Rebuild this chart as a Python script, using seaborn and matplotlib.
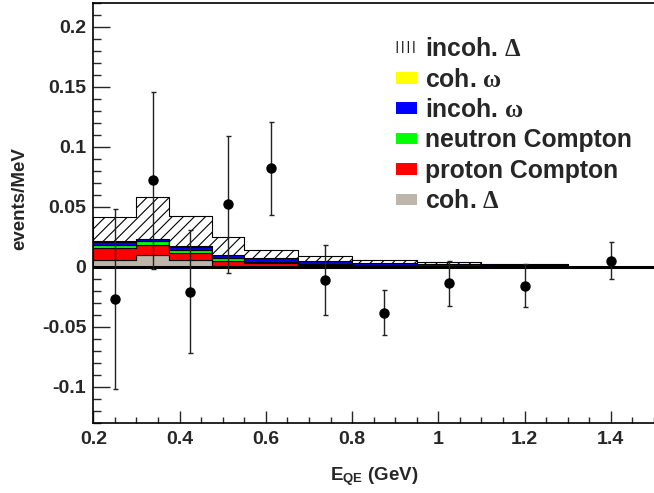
import numpy as np
import pandas as pd
import matplotlib
matplotlib.use("Agg")
import matplotlib.pyplot as plt
import matplotlib.ticker as mticker
from matplotlib.patches import Patch
import seaborn as sns

# ---- data ----
bin_edges = [0.2, 0.3, 0.375, 0.475, 0.55, 0.675, 0.8, 0.95, 1.1, 1.3]
components = ["incoh. Δ", "coh. ω", "incoh. ω", "neutron Compton", "proton Compton", "coh. Δ"]
incoh_delta = [0.0204, 0.0343, 0.0255, 0.0145, 0.0070, 0.0036, 0.0022, 0.0017, 0.0010]
coh_omega = [0.0003, 0.0003, 0.0002, 0.0001, 0.0001, 0.0001, 0.0000, 0.0000, 0.0000]
incoh_omega = [0.0025, 0.0019, 0.0028, 0.0028, 0.0032, 0.0030, 0.0023, 0.0014, 0.0010]
neutron_compton = [0.0028, 0.0033, 0.0024, 0.0020, 0.0011, 0.0005, 0.0003, 0.0002, 0.0001]
proton_compton = [0.0102, 0.0078, 0.0061, 0.0046, 0.0026, 0.0015, 0.0009, 0.0006, 0.0004]
coh_delta = [0.0055, 0.0102, 0.0055, 0.0006, 0.0003, 0.0002, 0.0001, 0.0000, 0.0000]

data_x = [0.25, 0.3375, 0.425, 0.5125, 0.6125, 0.7375, 0.875, 1.025, 1.2, 1.4]
data_y = [-0.027, 0.072, -0.0205, 0.052, 0.082, -0.0108, -0.038, -0.0138, -0.0155, 0.0052]
data_err = [0.075, 0.0735, 0.051, 0.057, 0.039, 0.029, 0.019, 0.019, 0.0177, 0.0157]

colors = {"incoh. Δ": "#ffffff", "coh. ω": "#ffff00", "incoh. ω": "#0000ff",
          "neutron Compton": "#00ff00", "proton Compton": "#ff0000", "coh. Δ": "#bfb6ab"}
legend_labels = [r"incoh. $\Delta$", r"coh. $\mathrm{\omega}$", r"incoh. $\mathrm{\omega}$",
                 "neutron Compton", "proton Compton", r"coh. $\Delta$"]

series = [incoh_delta, coh_omega, incoh_omega, neutron_compton, proton_compton, coh_delta]
centers = [(a + b) / 2 for a, b in zip(bin_edges[:-1], bin_edges[1:])]
rows = []
for name, vals in zip(components, series):
    for c, v in zip(centers, vals):
        rows.append({"x": c, "w": v, "comp": name})
df = pd.DataFrame(rows)

# ---- style ----
sns.set_theme(style="ticks")
plt.rcParams["font.family"] = ["Liberation Sans", "DejaVu Sans"]
plt.rcParams["font.weight"] = "bold"
plt.rcParams["mathtext.fontset"] = "custom"
plt.rcParams["mathtext.rm"] = "Liberation Serif"
plt.rcParams["mathtext.it"] = "Liberation Serif:italic"
plt.rcParams["mathtext.bf"] = "Liberation Sans:bold"
plt.rcParams["hatch.linewidth"] = 0.8

fig = plt.figure(figsize=(6.54, 4.93), dpi=100)
ax = fig.add_axes([93.3 / 654, 1 - 423 / 493, 1 - 93.3 / 654, (423 - 2.7) / 493])

sns.histplot(data=df, x="x", weights="w", hue="comp", hue_order=components,
             bins=bin_edges, multiple="stack", element="step", fill=True,
             palette=colors, alpha=1, edgecolor="black", linewidth=0.8,
             legend=False, ax=ax)

for coll in ax.collections:
    fc = coll.get_facecolor()
    if len(fc) and np.allclose(fc[0][:3], [1, 1, 1]):
        coll.set_hatch("///")
        coll.set_edgecolor("black")

ax.axhline(0, color="black", lw=2.2, zorder=5)

ax.errorbar(data_x, data_y, yerr=data_err, fmt="o", color="black", ms=6.5,
            ecolor="#222222", elinewidth=1.0, capsize=1.8, capthick=1.0, zorder=6)

ax.set_xlim(0.2, 1.5)
ax.set_ylim(-0.13, 0.22)
ax.xaxis.set_major_locator(mticker.MultipleLocator(0.2))
ax.xaxis.set_minor_locator(mticker.MultipleLocator(0.05))
ax.yaxis.set_major_locator(mticker.MultipleLocator(0.05))
ax.yaxis.set_minor_locator(mticker.MultipleLocator(0.01))
fmt = mticker.FuncFormatter(lambda v, p: "0" if abs(v) < 1e-9 else ("%g" % round(v, 4)))
ax.xaxis.set_major_formatter(fmt)
ax.yaxis.set_major_formatter(fmt)
ax.tick_params(axis="both", which="both", direction="in", labelsize=14, width=1)
ax.tick_params(axis="y", which="major", length=12, pad=5)
ax.tick_params(axis="y", which="minor", length=6)
ax.tick_params(axis="x", which="major", length=8.5, pad=6)
ax.tick_params(axis="x", which="minor", length=4.2)
for lab in ax.get_xticklabels() + ax.get_yticklabels():
    lab.set_fontweight("bold")
for s in ["left", "bottom", "top"]:
    ax.spines[s].set_linewidth(1.2)
    ax.spines[s].set_color("black")
ax.spines["right"].set_visible(False)

ax.set_ylabel("events/MeV", fontsize=13.5, fontweight="bold")
ax.yaxis.set_label_coords(-0.1165, 0.535)
ax.set_xlabel(r"E$_{\mathbf{QE}}$ (GeV)", fontsize=13.5, fontweight="bold", labelpad=12)

handles = []
for name in components:
    if name == "incoh. Δ":
        handles.append(Patch(facecolor="white", edgecolor="black", hatch="|||", linewidth=0))
    else:
        handles.append(Patch(facecolor=colors[name], edgecolor="none"))
leg = ax.legend(handles, legend_labels, loc="upper left", bbox_to_anchor=(0.540, 0.918),
                frameon=False, prop={"weight": "bold", "size": 17.8},
                handlelength=0.85, handleheight=0.35, handletextpad=0.32,
                labelspacing=0.26, borderpad=0, borderaxespad=0)

fig.savefig("out.png", dpi=100)
